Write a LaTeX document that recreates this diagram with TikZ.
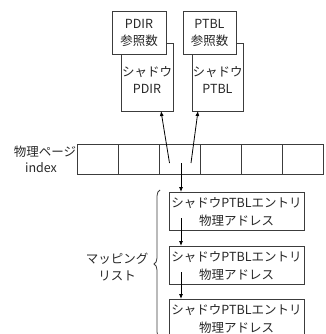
\documentclass[tikz,border=0pt]{standalone}
\usepackage{fontspec}
\setmainfont{Noto Sans CJK JP}
\usetikzlibrary{decorations.pathreplacing,arrows.meta}
\definecolor{edge}{RGB}{60,60,60}
\definecolor{ink}{RGB}{40,40,40}
\begin{document}
\begin{tikzpicture}[x=1pt,y=-1pt,
  every node/.style={inner sep=0pt,outer sep=0pt,text=ink,font=\fontsize{12.5}{17.5}\selectfont},
  boxshape/.style={draw=edge,line width=0.9pt,fill=white},
  txt/.style={align=center},
  arr/.style={-{Latex[length=5pt,width=4pt]},line width=0.8pt,black}]
\useasboundingbox (0,0) rectangle (325,334);
% shadow boxes (behind)
\draw[boxshape] (121,43) rectangle (173,111);
\node[txt] (spdir) at (147,80) {シャドウ\\PDIR};
\coordinate (spdirb) at (161,111);
\draw[boxshape] (192,43) rectangle (243,111);
\node[txt] (sptbl) at (217.5,80) {シャドウ\\PTBL};
\coordinate (sptblb) at (198,111);
% reference count boxes
\draw[boxshape] (112,11) rectangle (166,54);
\node[txt] (rpdir) at (139,33) {PDIR\\参照数};
\draw[boxshape] (183,11) rectangle (236,54);
\node[txt] (rptbl) at (209.5,33) {PTBL\\参照数};
% page array
\foreach \i in {0,...,5} {
  \draw[boxshape] (77+41*\i,144) rectangle (118+41*\i,174);
}
\node[anchor=east] (lbl) at (76,152) {物理ページ};
\node (idx) at (41,168) {index};
% arrows from cell
\coordinate (s1) at (169.5,163);
\coordinate (s2) at (191,163);
\coordinate (s3) at (181,163);
\draw[arr] (s1) -- (spdirb);
\draw[arr] (s2) -- (sptblb);
% list boxes
\foreach \y/\n in {192/1,246/2,299/3} {
  \draw[boxshape] (169,\y) rectangle (304,\y+38.5);
  \node[txt] (e\n) at (236.5,\y+20) {シャドウPTBLエントリ\\物理アドレス};
}
\coordinate (t1) at (181,192);
\coordinate (b1) at (181,218);
\coordinate (t2) at (181,246);
\coordinate (b2) at (181,272);
\coordinate (t3) at (181,299);
\draw[arr] (s3) -- (t1);
\draw[arr] (b1) -- (t2);
\draw[arr] (b2) -- (t3);
% brace
\coordinate (bb) at (160,338);
\coordinate (bt) at (160,190);
\draw[edge,line width=0.8pt,decorate,decoration={brace,amplitude=6pt}] (bb) -- (bt);
\node[txt] (map) at (117,267) {マッピング\\リスト};
\end{tikzpicture}
\end{document}
